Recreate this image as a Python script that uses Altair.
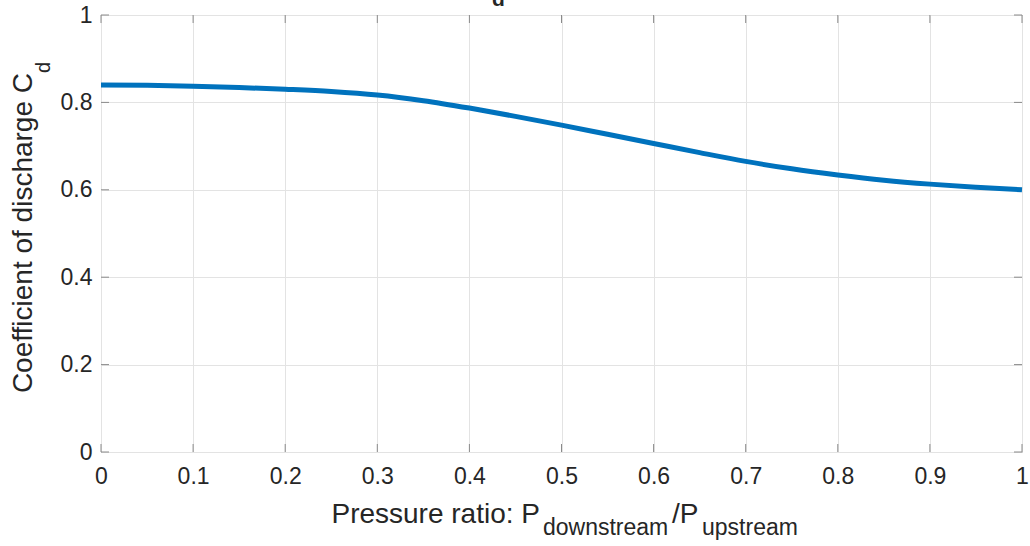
import altair as alt
import pandas as pd

# Data
pressure_ratio = [0.0, 0.05, 0.1, 0.15, 0.2, 0.25, 0.3, 0.35, 0.4, 0.45, 0.5,
                  0.55, 0.6, 0.65, 0.7, 0.75, 0.8, 0.85, 0.9, 0.95, 1.0]
cd_values = [0.840, 0.839, 0.837, 0.834, 0.830, 0.825, 0.817, 0.804, 0.787, 0.768, 0.748,
             0.727, 0.706, 0.685, 0.665, 0.648, 0.634, 0.622, 0.613, 0.606, 0.600]
x_ticks = [0, 0.1, 0.2, 0.3, 0.4, 0.5, 0.6, 0.7, 0.8, 0.9, 1]
y_ticks = [0, 0.2, 0.4, 0.6, 0.8, 1]

x_title_parts = ["Pressure ratio: P", "downstream", "/P", "upstream"]
y_title_parts = ["Coefficient of discharge C", "d"]
top_title_fragment = "d"

FONT = "Liberation Sans"
TEXT = "#262626"
TICK = "#8a8a8a"
W, H = 921, 437
LEFT, TOP = 101, 15
TL = 8  # inner tick length

df = pd.DataFrame({"ratio": pressure_ratio, "cd": cd_values})
xs = alt.Scale(domain=[0, 1], nice=False)
ys = alt.Scale(domain=[0, 1], nice=False)

line = alt.Chart(df).mark_line(color="#0072BD", strokeWidth=5, interpolate="monotone").encode(
    x=alt.X("ratio:Q", scale=xs,
            axis=alt.Axis(values=x_ticks, format="~g", title=None, ticks=False,
                          labelPadding=13, labelFontSize=23, labelFont=FONT, labelColor=TEXT,
                          domain=False, grid=True, gridColor="#e3e3e3", labelFlush=False)),
    y=alt.Y("cd:Q", scale=ys,
            axis=alt.Axis(values=y_ticks, format="~g", title=None, ticks=False,
                          labelPadding=9, labelFontSize=23, labelFont=FONT, labelColor=TEXT,
                          domain=False, grid=True, gridColor="#e3e3e3", labelFlush=False)),
)

xt = pd.DataFrame({"v": x_ticks})
yt = pd.DataFrame({"v": y_ticks})
tick_layers = [
    alt.Chart(xt).mark_rule(color=TICK, strokeWidth=1).encode(
        x=alt.X("v:Q", scale=xs), y=alt.value(H), y2=alt.value(H - TL)),
    alt.Chart(xt).mark_rule(color=TICK, strokeWidth=1).encode(
        x=alt.X("v:Q", scale=xs), y=alt.value(0), y2=alt.value(TL)),
    alt.Chart(yt).mark_rule(color=TICK, strokeWidth=1).encode(
        y=alt.Y("v:Q", scale=ys), x=alt.value(0), x2=alt.value(TL)),
    alt.Chart(yt).mark_rule(color=TICK, strokeWidth=1).encode(
        y=alt.Y("v:Q", scale=ys), x=alt.value(W), x2=alt.value(W - TL)),
]


def txt(s, x, y, size, align="left", angle=0, bold=False):
    return alt.Chart(pd.DataFrame({"t": [s]})).mark_text(
        font=FONT, fontSize=size, color=TEXT, align=align, baseline="alphabetic",
        angle=angle, fontWeight="bold" if bold else "normal"
    ).encode(x=alt.value(x - LEFT), y=alt.value(y - TOP), text="t:N")


texts = [
    txt(x_title_parts[0], 540, 523, 28, align="right"),
    txt(x_title_parts[1], 543, 535, 23),
    txt(x_title_parts[2], 672, 523, 28),
    txt(x_title_parts[3], 702, 535, 23),
    txt(y_title_parts[0], 32, 73, 28, align="right", angle=270),
    txt(y_title_parts[1], 50, 73, 20, align="left", angle=270),
    txt(top_title_fragment, 492, 6, 21, bold=True),
]

chart = alt.layer(*tick_layers, line, *texts).properties(
    width=W, height=H,
    padding={"left": LEFT, "top": TOP, "right": 1030 - LEFT - W, "bottom": 546 - TOP - H},
    autosize=alt.AutoSizeParams(type="none"),
    background="white",
).configure_view(stroke="#8f8f8f", strokeWidth=1)

chart.save("out.html", embed_options={"renderer": "svg", "actions": False})
